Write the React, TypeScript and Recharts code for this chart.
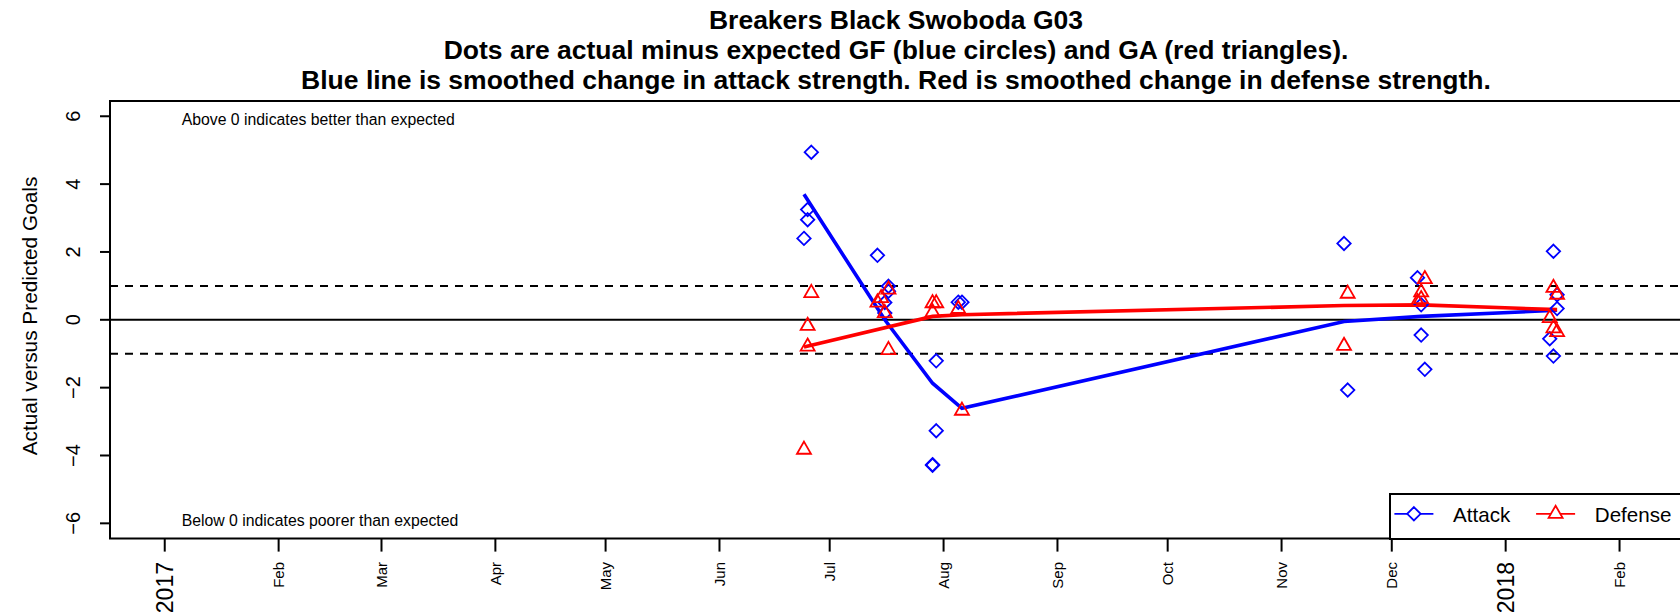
import React from 'react';
import { ComposedChart, Scatter, Line, XAxis, YAxis, ReferenceLine, ReferenceArea, Legend } from 'recharts';

// game dates and actual-minus-expected goals
const attackDates = [
  '2017-06-24', '2017-06-25', '2017-06-25', '2017-06-26', '2017-07-14', '2017-07-16', '2017-07-16',
  '2017-07-17', '2017-07-17', '2017-07-29', '2017-07-29', '2017-07-30', '2017-07-30', '2017-08-05',
  '2017-08-06', '2017-11-18', '2017-11-19', '2017-12-08', '2017-12-09', '2017-12-09', '2017-12-10',
  '2018-01-13', '2018-01-14', '2018-01-14', '2018-01-15', '2018-01-15',
];
const attackValues = [
  2.4, 3.25, 2.95, 4.94, 1.9, 0.51, 0.2, 0.99, 0.84, -4.29, -4.27, -1.21, -3.27, 0.52,
  0.52, 2.25, -2.07, 1.24, 0.44, -0.45, -1.46, -0.56, 2.02, -1.07, 0.74, 0.33,
];

const defenseDates = [
  '2017-06-24', '2017-06-25', '2017-06-25', '2017-06-26', '2017-07-14', '2017-07-15', '2017-07-16',
  '2017-07-17', '2017-07-17', '2017-07-29', '2017-07-29', '2017-07-30', '2017-08-05', '2017-08-06',
  '2017-11-18', '2017-11-19', '2017-12-08', '2017-12-09', '2017-12-09', '2017-12-10',
  '2018-01-13', '2018-01-14', '2018-01-14', '2018-01-15', '2018-01-15',
];
const defenseValues = [
  -3.83, -0.18, -0.79, 0.79, 0.51, 0.64, 0.2, 0.89, -0.89, 0.22, 0.49, 0.49, 0.32, -2.68,
  -0.77, 0.77, 0.52, 0.81, 0.61, 1.2, 0.05, 0.94, -0.25, 0.74, -0.36,
];

// smoothed strength changes
const attackSmoothDates = ['2017-06-24', '2017-07-16', '2017-07-29', '2017-08-06', '2017-11-18', '2017-12-09', '2018-01-15'];
const attackSmoothValues = [3.7, 0.0, -1.87, -2.61, -0.05, 0.1, 0.28];
const defenseSmoothDates = ['2017-06-24', '2017-07-29', '2017-08-06', '2017-11-18', '2017-12-09', '2018-01-15'];
const defenseSmoothValues = [-0.8, 0.1, 0.15, 0.42, 0.44, 0.3];

// x ticks: first day of each month
const monthTickDates = [
  '2017-01-01', '2017-02-01', '2017-03-01', '2017-04-01', '2017-05-01', '2017-06-01', '2017-07-01',
  '2017-08-01', '2017-09-01', '2017-10-01', '2017-11-01', '2017-12-01', '2018-01-01', '2018-02-01',
];
const monthTickLabels = ['2017', 'Feb', 'Mar', 'Apr', 'May', 'Jun', 'Jul', 'Aug', 'Sep', 'Oct', 'Nov', 'Dec', '2018', 'Feb'];
const yTicks = [-6, -4, -2, 0, 2, 4, 6];

const titleLines = [
  'Breakers Black Swoboda G03',
  'Dots are actual minus expected GF (blue circles) and GA (red triangles).',
  'Blue line is smoothed change in attack strength. Red is smoothed change in defense strength.',
];

const BLUE = '#0000ff';
const RED = '#ff0000';
const FONT = '"Liberation Sans", Arial, Helvetica, sans-serif';
const X_DOMAIN: [number, number] = [-14.9, 413];
const Y_DOMAIN: [number, number] = [-6.45, 6.45];

const dayOf = (s: string) => {
  const [y, m, d] = s.split('-').map(Number);
  return (Date.UTC(y, m - 1, d) - Date.UTC(2017, 0, 1)) / 86400000;
};
const toPoints = (dates: string[], values: number[]) => dates.map((s, i) => ({ d: dayOf(s), v: values[i] }));

const attackData = toPoints(attackDates, attackValues);
const defenseData = toPoints(defenseDates, defenseValues);
const attackSmooth = toPoints(attackSmoothDates, attackSmoothValues);
const defenseSmooth = toPoints(defenseSmoothDates, defenseSmoothValues);
const monthTicks = monthTickDates.map(dayOf);

const diamondPath = (cx: number, cy: number, r = 6.7) =>
  `M${cx},${cy - r}L${cx + r},${cy}L${cx},${cy + r}L${cx - r},${cy}Z`;
const trianglePath = (cx: number, cy: number) =>
  `M${cx},${cy - 8.1}L${cx + 7},${cy + 4.05}L${cx - 7},${cy + 4.05}Z`;

const Diamond = (props: any) => (
  <path d={diamondPath(props.cx, props.cy)} fill="none" stroke={BLUE} strokeWidth={1.8} />
);
const Triangle = (props: any) => (
  <path d={trianglePath(props.cx, props.cy)} fill="none" stroke={RED} strokeWidth={1.8} />
);

const XTick = (props: any) => {
  const { x, y, payload } = props;
  const idx = monthTicks.indexOf(payload.value);
  const label = monthTickLabels[idx] ?? '';
  const isYear = /^\d{4}$/.test(label);
  const size = isYear ? 23 : 15;
  const bx = x + size * 0.358;
  return (
    <text x={bx} y={y} transform={`rotate(-90, ${bx}, ${y})`} textAnchor="end" fontSize={size} fontFamily={FONT} fill="#000">
      {label}
    </text>
  );
};

const YTick = (props: any) => {
  const { x, y, payload } = props;
  const label = payload.value < 0 ? `\u2212${Math.abs(payload.value)}` : `${payload.value}`;
  return (
    <text x={x} y={y} transform={`rotate(-90, ${x}, ${y})`} textAnchor="middle" fontSize={20} fontFamily={FONT} fill="#000">
      {label}
    </text>
  );
};

const legendItems = [
  { name: 'Attack', color: BLUE, shape: 'diamond' },
  { name: 'Defense', color: RED, shape: 'triangle' },
];

const LegendBox = () => (
  <div style={{ width: 320, height: 46.6, boxSizing: 'border-box', border: '2px solid #000', background: '#fff', position: 'relative' }}>
    <svg width={320} height={46.6} style={{ position: 'absolute', left: -2, top: -2 }}>
      {legendItems.map((item, i) => {
        const x0 = 5.4 + i * 141.7;
        const cx = x0 + 19.5;
        const cy = 20.8;
        return (
          <g key={item.name}>
            <line x1={x0} x2={x0 + 39} y1={cy} y2={cy} stroke={item.color} strokeWidth={1.8} />
            <path
              d={item.shape === 'diamond' ? diamondPath(cx, cy) : trianglePath(cx, cy)}
              fill="#fff"
              stroke={item.color}
              strokeWidth={1.8}
            />
            <text x={x0 + 58.7} y={28.5} fontSize={20.6} fontFamily={FONT} fill="#000">
              {item.name}
            </text>
          </g>
        );
      })}
    </svg>
  </div>
);

export default function App() {
  return (
    <div style={{ position: 'absolute', left: 0, top: 0, width: 1680, height: 616, overflow: 'hidden', background: '#fff' }}>
      <ComposedChart width={1700} height={616} margin={{ top: 101, right: 18, bottom: 0, left: 0 }}>
        <XAxis
          type="number"
          dataKey="d"
          domain={X_DOMAIN}
          ticks={monthTicks}
          interval={0}
          allowDataOverflow
          height={77.4}
          axisLine={false}
          tickLine={{ stroke: '#000', strokeWidth: 2 }}
          tickSize={13}
          tickMargin={10.4}
          tick={<XTick />}
        />
        <YAxis
          type="number"
          dataKey="v"
          domain={Y_DOMAIN}
          ticks={yTicks}
          interval={0}
          allowDataOverflow
          width={110}
          axisLine={false}
          tickLine={{ stroke: '#000', strokeWidth: 2 }}
          tickSize={10}
          tickMargin={19.5}
          tick={<YTick />}
        />
        <ReferenceArea
          x1={X_DOMAIN[0]}
          x2={X_DOMAIN[1]}
          y1={Y_DOMAIN[0]}
          y2={Y_DOMAIN[1]}
          fill="none"
          fillOpacity={0}
          stroke="#000"
          strokeWidth={2}
          ifOverflow="visible"
        />
        <ReferenceLine y={0} stroke="#000" strokeWidth={2} />
        <ReferenceLine y={1} stroke="#000" strokeWidth={2} strokeDasharray="8 7" />
        <ReferenceLine y={-1} stroke="#000" strokeWidth={2} strokeDasharray="8 7" />
        <Scatter name="Attack" data={attackData} shape={<Diamond />} isAnimationActive={false} />
        <Scatter name="Defense" data={defenseData} shape={<Triangle />} isAnimationActive={false} />
        <Line data={attackSmooth} dataKey="v" type="linear" stroke={BLUE} strokeWidth={3.6} dot={false} activeDot={false} isAnimationActive={false} />
        <Line data={defenseSmooth} dataKey="v" type="linear" stroke={RED} strokeWidth={3.6} dot={false} activeDot={false} isAnimationActive={false} />
        <Legend
          layout="horizontal"
          verticalAlign="middle"
          align="center"
          content={() => <LegendBox />}
          wrapperStyle={{ left: 1388.6, top: 493, width: 320, height: 46.6 }}
        />
      </ComposedChart>
      <svg width={1680} height={616} style={{ position: 'absolute', left: 0, top: 0, pointerEvents: 'none' }}>
        {titleLines.map((t, i) => (
          <text key={i} x={896} y={28.8 + i * 30} textAnchor="middle" fontSize={26.5} fontWeight="bold" fontFamily={FONT} fill="#000">
            {t}
          </text>
        ))}
        <text x={181.7} y={125} fontSize={15.8} fontFamily={FONT} fill="#000">Above 0 indicates better than expected</text>
        <text x={181.7} y={526} fontSize={15.8} fontFamily={FONT} fill="#000">Below 0 indicates poorer than expected</text>
        <text x={36.5} y={316} transform="rotate(-90, 36.5, 316)" textAnchor="middle" fontSize={20.8} fontFamily={FONT} fill="#000">
          Actual versus Predicted Goals
        </text>
      </svg>
    </div>
  );
}
